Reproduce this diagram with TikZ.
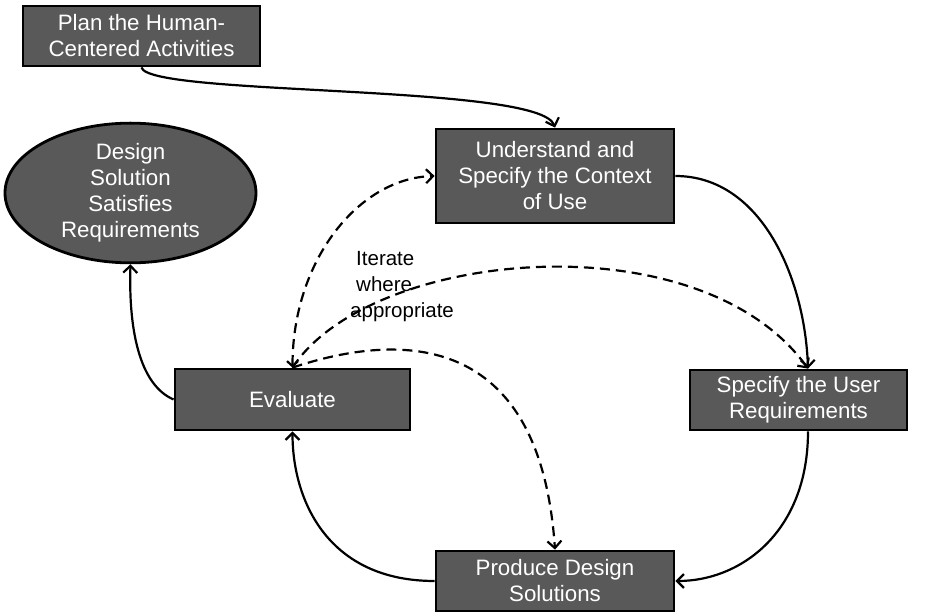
\documentclass[tikz,border=0pt]{standalone}
\usepackage{fontspec}
\setmainfont{Liberation Sans}
\usetikzlibrary{arrows.meta,shapes.geometric}
\definecolor{boxgray}{HTML}{595959}
\begin{document}
\begin{tikzpicture}[x=1pt,y=-1pt,
  stepbox/.style={draw=black,line width=2.8pt,fill=boxgray,text=white,align=center,
    inner sep=0pt,font=\fontsize{22.3}{26}\selectfont},
  goal/.style={ellipse,draw=black,line width=2.8pt,fill=boxgray,text=white,align=center,
    inner sep=0pt,font=\fontsize{22.3}{26}\selectfont},
  flow/.style={line width=2.2pt,-{Straight Barb[length=7pt,width=14pt,line width=2.2pt]}},
  iter/.style={flow,dash pattern=on 10pt off 6pt}
]
\useasboundingbox (0,0) rectangle (929,612);
\node[stepbox,minimum width=237pt,minimum height=60pt] (plan) at (141.5,36) {Plan the Human-\\Centered Activities};
\node[stepbox,minimum width=238pt,minimum height=94pt] (understand) at (555,176) {Understand and\\Specify the Context\\of Use};
\node[goal,minimum width=251pt,minimum height=128pt] (done) at (130.5,193) {Design\\Solution\\Satisfies\\Requirements};
\node[stepbox,minimum width=235pt,minimum height=61pt] (evaluate) at (292.5,399.5) {Evaluate};
\node[stepbox,minimum width=217pt,minimum height=60pt] (specify) at (798.5,400) {Specify the User\\Requirements};
\node[stepbox,minimum width=238pt,minimum height=60pt] (produce) at (555,581) {Produce Design\\Solutions};
\node[font=\fontsize{20.5}{26}\selectfont,align=left,inner sep=0pt,anchor=west] (iterlabel) at (350,287) {\hspace*{6pt}Iterate\\\hspace*{6pt}where\\appropriate};

\draw[flow] (plan.south) .. controls +(6.5,29) and +(-15,-44) .. (understand.north);
\draw[flow] (understand.east) .. controls +(86,0) and +(-3,-90) .. ([xshift=9.5pt]specify.north);
\draw[flow] ([xshift=9.5pt]specify.south) .. controls +(0,100) and +(66,0) .. (produce.east);
\draw[flow] (produce.west) .. controls +(-106,0) and +(0,70) .. (evaluate.south);
\draw[flow] (evaluate.west) .. controls +(-35,-15) and +(-2,63) .. (done.south);
\draw[iter,{Straight Barb[length=5pt,width=11pt,line width=2.2pt]}-{Straight Barb[length=7pt,width=14pt,line width=2.2pt]}]
  (evaluate.north) .. controls +(0,-107) and +(-76,2) .. (understand.west);
\draw[iter] (evaluate.north) .. controls +(78,-119) and +(-108,-150) .. ([xshift=9.5pt]specify.north);
\draw[iter] (evaluate.north) .. controls +(108,-36) and +(-15,-219) .. (produce.north);
\end{tikzpicture}
\end{document}
